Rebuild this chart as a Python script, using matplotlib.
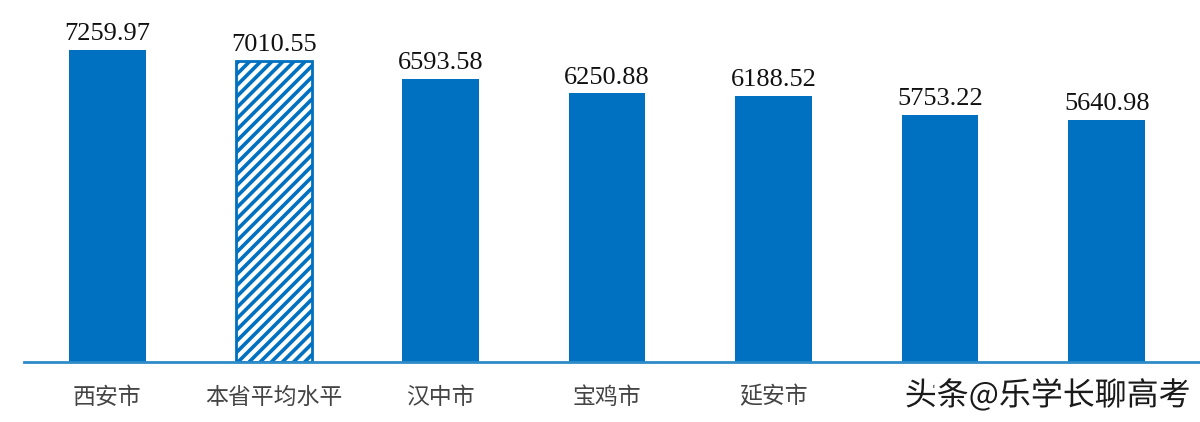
import matplotlib.pyplot as plt
import matplotlib.patheffects as pe

cities = ['西安市', '本省平均水平', '汉中市', '宝鸡市', '延安市', '榆林市', '渭南市']
values = [7259.97, 7010.55, 6593.58, 6250.88, 6188.52, 5753.22, 5640.98]
avg_index = 1

bar_colour = '#0070C0'
axis_colour = '#2E8BC8'

plt.rcParams['hatch.linewidth'] = 2.6
plt.rcParams['hatch.color'] = bar_colour

fig = plt.figure(figsize=(12, 4.22), dpi=100)
ax = fig.add_axes([0.02, 0.142, 0.98, 0.858])

x = list(range(len(cities)))
for i, v in enumerate(values):
    if i == avg_index:
        ax.bar(i, v, width=0.46, facecolor='white', edgecolor=bar_colour,
               hatch='///', linewidth=2)
    else:
        ax.bar(i, v, width=0.46, color=bar_colour)
    ax.text(i, v + 110, f'{v:.2f}', ha='center', va='bottom',
            fontsize=19, family='Liberation Serif', color='#111111')

ax.set_xlim(-0.5, 6.56)
ax.set_ylim(0, 8420)
ax.set_yticks([])
ax.set_xticks(x)
ax.set_xticklabels(cities, family=['Noto Sans CJK SC', 'DejaVu Sans'],
                   fontsize=16.5, color='#444444')
ax.tick_params(axis='x', length=0, pad=17)
for side in ['top', 'right', 'left']:
    ax.spines[side].set_visible(False)
ax.spines['bottom'].set_color(axis_colour)
ax.spines['bottom'].set_linewidth(2)

# watermark over the last labels
fig.text(0.754, 0.062, '头条@乐学长聊高考', family=['Noto Sans CJK SC', 'DejaVu Sans'],
         fontsize=23, color='#1a1a1a', ha='left', va='center',
         path_effects=[pe.withStroke(linewidth=7, foreground='white')])

fig.savefig('out.png', dpi=100)
